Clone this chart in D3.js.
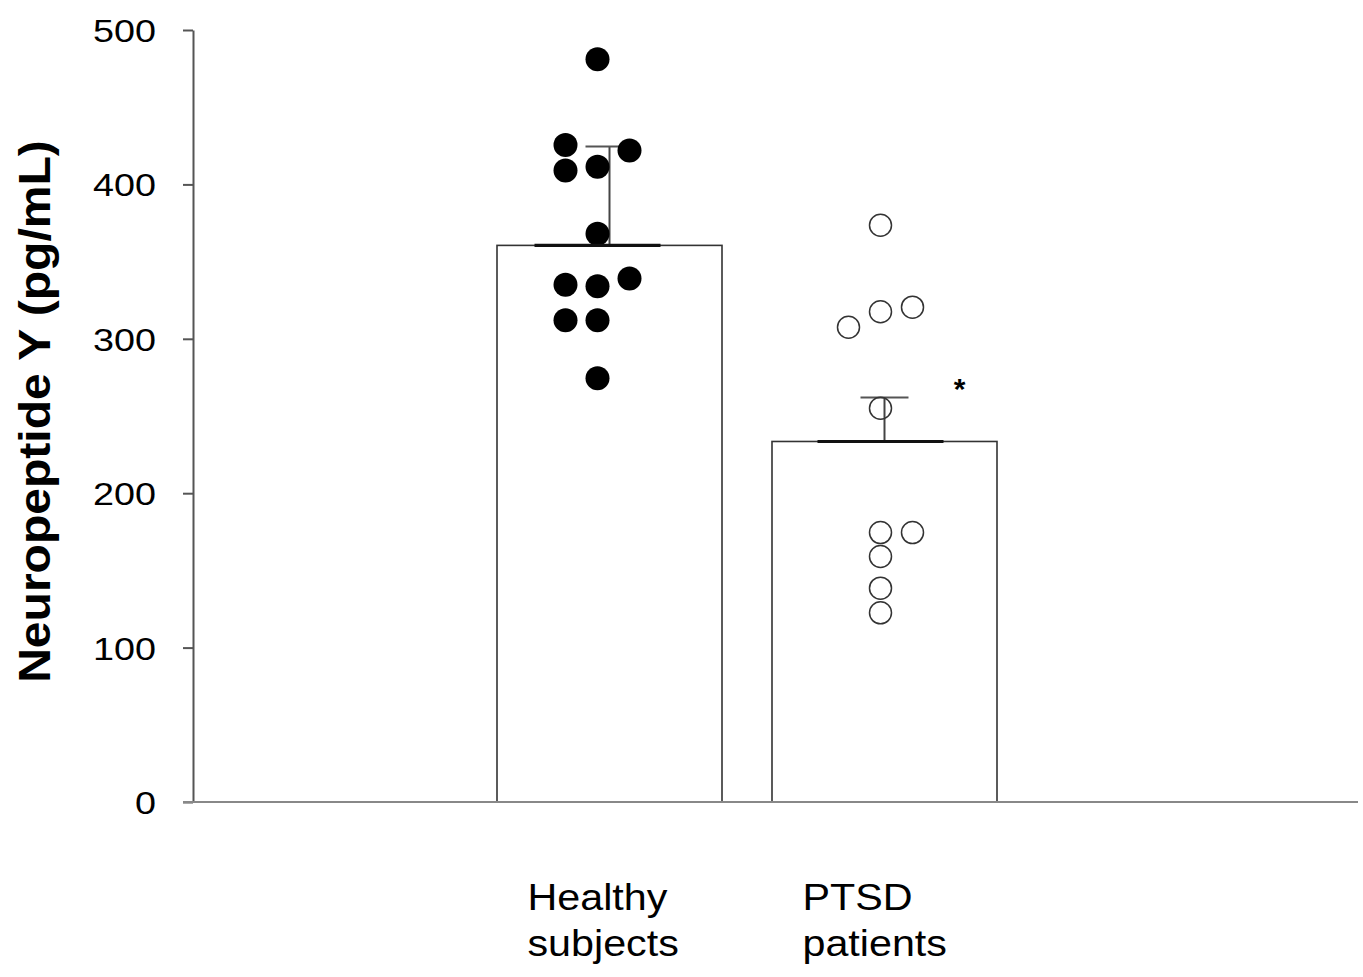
<!DOCTYPE html>
<html>
<head>
<meta charset="utf-8">
<script src="https://cdn.jsdelivr.net/npm/d3@7"></script>
<style>
  html, body { margin: 0; padding: 0; background: #fff; }
  svg { display: block; }
  text { font-family: "Liberation Sans", Arial, sans-serif; fill: #000; }
</style>
</head>
<body>
<svg id="chart" width="1363" height="977"></svg>
<script>
// ---- data ----
const categories = ["Healthy subjects", "PTSD patients"];
const categoryLines = [["Healthy", "subjects"], ["PTSD", "patients"]];
const means = [360.5, 233.5];
const errors = [64, 28.5];
const healthyValues = [481, 425.5, 422, 409, 411.5, 368, 335, 334, 339, 312, 312, 274.5];
const healthyCols   = [0, -1, 1, -1, 0, 0, -1, 0, 1, -1, 0, 0];
const ptsdValues = [373.5, 307.5, 317.5, 320.5, 255, 174.5, 174.5, 159, 138.5, 122.5];
const ptsdCols   = [0, -1, 0, 1, 0, 0, 1, 0, 0, 0];
const yTicks = [0, 100, 200, 300, 400, 500];
const yTitle = "Neuropeptide Y (pg/mL)";
const significance = ["", "*"];

// ---- drawing ----
const svg = d3.select("#chart");
const y = d3.scaleLinear().domain([0, 500]).range([802, 30]);
const x = d3.scaleBand().domain(categories).range([497, 997]).paddingInner(0.1818).paddingOuter(0);
const col = d3.scaleLinear().domain([-1, 1]).range([-32, 32]);
const groupShift = [-12, -4];
const groups = [
  { values: healthyValues, cols: healthyCols, filled: true },
  { values: ptsdValues, cols: ptsdCols, filled: false }
];

// bars
svg.selectAll("rect.bar").data(categories).join("rect")
  .attr("class", "bar")
  .attr("x", d => x(d))
  .attr("width", x.bandwidth())
  .attr("y", (d, i) => y(means[i]))
  .attr("height", (d, i) => y(0) - y(means[i]))
  .attr("fill", "#fff").attr("stroke", "#333").attr("stroke-width", 1.6);

// error bars
categories.forEach((c, i) => {
  const cx = x(c) + x.bandwidth() / 2;
  svg.append("line").attr("x1", cx).attr("x2", cx)
    .attr("y1", y(means[i])).attr("y2", y(means[i] + errors[i]))
    .attr("stroke", "#444").attr("stroke-width", 2);
  svg.append("line").attr("x1", cx - 24).attr("x2", cx + 24)
    .attr("y1", y(means[i] + errors[i])).attr("y2", y(means[i] + errors[i]))
    .attr("stroke", "#555").attr("stroke-width", 2);
});

// points
groups.forEach((g, gi) => {
  const cx = x(categories[gi]) + x.bandwidth() / 2 + groupShift[gi];
  svg.append("g").selectAll("circle").data(g.values).join("circle")
    .attr("cx", (d, i) => cx + col(g.cols[i]))
    .attr("cy", d => y(d))
    .attr("r", g.filled ? 12 : 11)
    .attr("fill", g.filled ? "#000" : "#fff")
    .attr("stroke", g.filled ? "none" : "#333")
    .attr("stroke-width", 1.5)
    .attr("fill-opacity", g.filled ? 1 : 0);
  // mean line
  svg.append("line").attr("x1", cx - 63).attr("x2", cx + 63)
    .attr("y1", y(means[gi])).attr("y2", y(means[gi]))
    .attr("stroke", "#111").attr("stroke-width", 3.2);
});

// significance
categories.forEach((c, i) => {
  if (!significance[i]) return;
  svg.append("text")
    .attr("x", x(c) + x.bandwidth() / 2 + 75)
    .attr("y", y(means[i] + errors[i]) + 2)
    .attr("font-size", 30).attr("font-weight", "bold").attr("text-anchor", "middle")
    .text(significance[i]);
});

// y axis
const yAxis = svg.append("g").attr("transform", "translate(193,0)")
  .call(d3.axisLeft(y).tickValues(yTicks).tickSize(10).tickSizeOuter(0).tickPadding(0).tickFormat(d3.format("d")));
yAxis.select(".domain").attr("stroke", "#555").attr("stroke-width", 2);
yAxis.selectAll(".tick line").attr("stroke", "#555").attr("stroke-width", 2);
yAxis.selectAll(".tick text").each(function () {
  const t = d3.select(this);
  t.attr("x", null).attr("dy", null)
    .attr("font-size", 32)
    .attr("text-anchor", "end")
    .attr("dominant-baseline", "central")
    .attr("transform", "translate(-37,0) scale(1.18,1)");
});

// x axis line
svg.append("line").attr("x1", 183).attr("x2", 1358)
  .attr("y1", y(0)).attr("y2", y(0))
  .attr("stroke", "#888").attr("stroke-width", 2.2);

// category labels
categories.forEach((c, i) => {
  const cx = x(c) + x.bandwidth() / 2;
  const t = svg.append("text")
    .attr("transform", `translate(${cx - 82},0) scale(1.1,1)`)
    .attr("font-size", 37.5);
  categoryLines[i].forEach((line, li) => {
    t.append("tspan").attr("x", 0).attr("y", 910 + li * 46).text(line);
  });
});

// y title
svg.append("text")
  .attr("transform", `translate(50,${(140 + 683) / 2}) rotate(-90) scale(1.08,1)`)
  .attr("text-anchor", "middle")
  .attr("font-size", 44.5).attr("font-weight", "bold")
  .text(yTitle);
</script>
</body>
</html>
